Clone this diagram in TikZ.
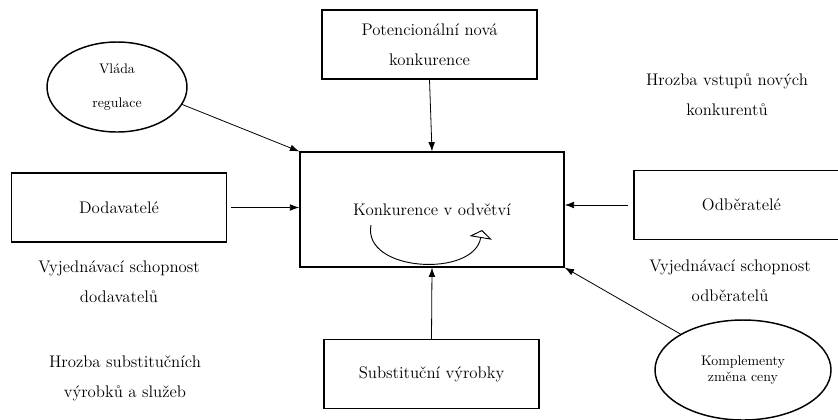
\documentclass[tikz,border=0pt]{standalone}
\usepackage{fontspec}
\usetikzlibrary{shapes.geometric,arrows.meta}

\begin{document}
\begin{tikzpicture}[x=0.75pt,y=-0.75pt]
	\tikzstyle{fleche}=[-{Latex[length=7pt,width=5pt]},line width=0.6pt]
	\tikzstyle{boite}=[draw,line width=1.1pt,inner sep=0pt,align=center,font=\fontsize{12.6}{22.5}\selectfont]
	\tikzstyle{bulle}=[draw,ellipse,line width=1.1pt,inner sep=0pt,align=center]
	\tikzstyle{texte}=[align=center,inner sep=0pt,font=\fontsize{12.6}{22.5}\selectfont]
	
	\def\LargeurBoite{161pt}
	\def\HauteurBoite{51.5pt}
	
	\path[use as bounding box,clip] (0,0) rectangle (838,419);
	
	% boites
	\node[boite,minimum width=\LargeurBoite,minimum height=\HauteurBoite] (pot) at (429.5,44.5) {Potencionální nová\\konkurence};
	\node[boite,minimum width=\LargeurBoite,minimum height=\HauteurBoite] (dod) at (119,207.5) {Dodavatelé};
	\node[boite,minimum width=\LargeurBoite,minimum height=\HauteurBoite] (odb) at (741.5,205) {Odběratelé};
	\node[boite,minimum width=\LargeurBoite,minimum height=\HauteurBoite] (sub) at (431.5,374) {Substituční výrobky};
	\node[boite,minimum width=198pt,minimum height=86pt] (hlavni) at (432,209.5) {Konkurence v odvětví};
	
	% elipsy
	\node[bulle,minimum width=105pt,minimum height=67.5pt,font=\fontsize{10.4}{26}\selectfont] (vlada) at (117,87) {Vláda\\regulace};
	\node[bulle,minimum width=132pt,minimum height=75pt,font=\fontsize{10.4}{12}\selectfont] (kompl) at (743,370) {Komplementy\\změna ceny};
	
	% popisky
	\node[texte] (hrozbaNovi) at (727,95) {Hrozba vstupů nových\\konkurentů};
	\node[texte] (vyjDod) at (119,282) {Vyjednávací schopnost\\dodavatelů};
	\node[texte] (hrozbaSub) at (125,378) {Hrozba substitučních\\výrobků a služeb};
	\node[texte] (vyjOdb) at (730,281) {Vyjednávací schopnost\\odběratelů};
	
	% sipky
	\draw[fleche] (vlada.-15) -- (hlavni.north west);
	\draw[fleche] (pot.south) -- (hlavni.north);
	\draw[fleche] ([xshift=3pt]dod.east) -- (dod.east -| hlavni.west);
	\draw[fleche] ([xshift=-4pt]odb.west) -- (odb.west -| hlavni.east);
	\draw[fleche] (sub.north) -- (hlavni.south);
	\draw[fleche] (kompl) -- (hlavni.south east);
	
	% rivalita
	\draw[-{Triangle[open,length=6pt,width=17pt]},line width=0.7pt] (371,225) .. controls (362,272) and (474,278) .. (482,230);
\end{tikzpicture}
\end{document}
